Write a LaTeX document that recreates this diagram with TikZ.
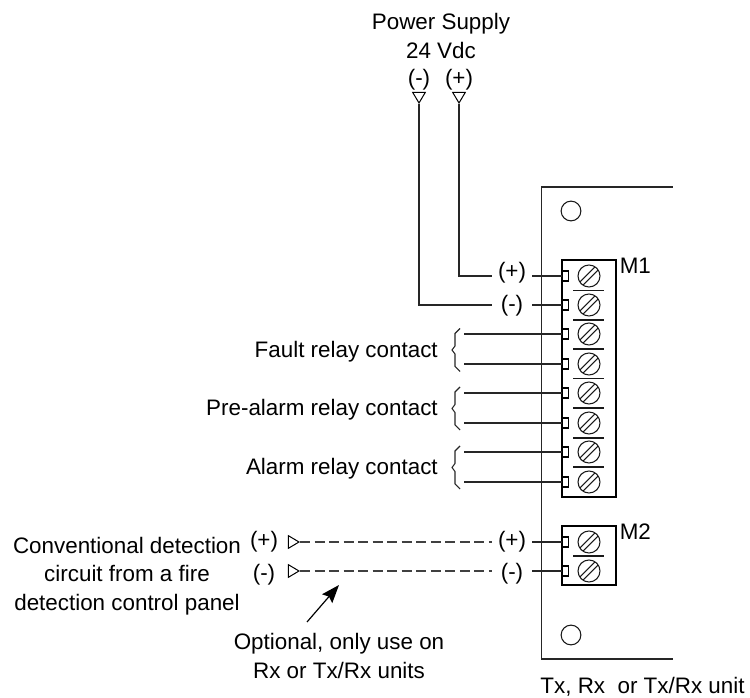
\documentclass[tikz,border=0pt]{standalone}
\usepackage{fontspec}
\setmainfont{Liberation Sans}
\usetikzlibrary{shapes.geometric,arrows.meta}
\tikzset{
  x=0.75pt,y=-0.75pt,
  wire/.style={line width=1pt,black!85},
  lbl/.style={inner sep=0pt,font=\fontsize{16.8pt}{21.2pt}\selectfont,text=black},
  pm/.style={lbl,minimum width=30pt},
  dashwire/.style={line width=1pt,black!75,dash pattern=on 7.5pt off 3.4pt},
  tri/.style={draw,line width=0.75pt,fill=white,isosceles triangle,isosceles triangle apex angle=60,isosceles triangle stretches,inner sep=0pt,minimum height=8pt,minimum width=9.5pt},
  block/.style={draw,line width=0.95pt,minimum width=40.5pt,inner sep=0pt},
  tab/.style={draw,fill=white,line width=0.8pt,minimum width=5pt,minimum height=7.5pt,inner sep=0pt},
  thin line/.style={line width=0.8pt,black!90},
  brk/.style={line width=0.8pt,black!85},
  pics/screw/.style={code={
    \draw[thin line] (0,0) circle[radius=8.25pt];
    \draw[thin line] (-6,9.2) -- (9.2,-6);
    \draw[thin line] (-9.2,6) -- (6,-9.2);
  }},
}
\begin{document}
\begin{tikzpicture}
\useasboundingbox (0,0) rectangle (750,698);
% board
\draw[line width=1pt,black!85] (672.5,187) -- (541.5,187) -- (541.5,659) -- (672.5,659);
\draw[thin line] (571,211) circle[radius=7.4pt];
\draw[thin line] (571,635) circle[radius=7.4pt];
% terminal blocks
\node[block,fill=white,minimum height=177.75pt] (m1) at (589,378.5) {};
\node[block,fill=white,minimum height=44.25pt] (m2) at (589,555.5) {};
\node[lbl,anchor=base west] (m1l) at (619.5,274) {M1};
\node[lbl,anchor=base west] (m2l) at (619.5,539) {M2};
% screws and tabs
\foreach \n/\yy in {1/276,2/305,3/334,4/364,5/393,6/423,7/452,8/482,9/542,10/571}{
  \pic at (589,\yy) {screw};
  \node[tab] (t\n) at (565.5,\yy) {};
}
\foreach \yy in {290.5,320,349,378.5,408,438,467,556}{
  \draw[thin line] (573,\yy) -- (604,\yy);
}
% power supply
\node[lbl,align=center] (ps) at (441,36) {Power Supply\\24 Vdc};
\node[lbl] (tm) at (419,80) {(-)};
\node[lbl] (tp) at (459,80) {(+)};
\node[tri,shape border rotate=270,anchor=apex] (am) at (419,104) {};
\node[tri,shape border rotate=270,anchor=apex] (ap) at (459,104) {};
\node[pm] (lp1) at (512,273) {(+)};
\node[pm] (lm1) at (512,305.5) {(-)};
\draw[wire] (ap.apex) |- (lp1.west |- t1.west);
\draw[wire] (am.apex) |- (lm1.west |- t2.west);
\draw[wire] (lp1.east |- t1.west) -- (t1.west);
\draw[wire] (lm1.east |- t2.west) -- (t2.west);
% relay contacts
\foreach \n/\yy in {3/334,4/364,5/393,6/423,7/452,8/482}{
  \coordinate (r\n) at (464,\yy);
  \draw[wire] (r\n) -- (t\n.west);
}
\foreach \yy in {350,408.5,467.5}{
  \draw[brk] (460,\yy-21.5) -- (455,\yy-16.5) -- (455,\yy-4) -- (452,\yy) -- (455,\yy+4) -- (455,\yy+16.5) -- (460,\yy+21.5);
}
\node[lbl,anchor=base east] (f) at (438,358) {Fault relay contact};
\node[lbl,anchor=base east] (pa) at (438,416) {Pre-alarm relay contact};
\node[lbl,anchor=base east] (al) at (438,475) {Alarm relay contact};
% detection circuit
\node[lbl,align=center] (cd) at (127,576) {Conventional detection\\circuit from a fire\\detection control panel};
\node[lbl] (cp) at (264,542) {(+)};
\node[lbl] (cm) at (264,575) {(-)};
\node[tri,anchor=apex] (dp) at (300,542) {};
\node[tri,anchor=apex] (dm) at (300,571) {};
\node[pm] (lp2) at (512,542) {(+)};
\node[pm] (lm2) at (512,574) {(-)};
\draw[dashwire] (dp.apex) -- (lp2.west |- t9.west);
\draw[dashwire] (dm.apex) -- (lm2.west |- t10.west);
\draw[wire] (lp2.east |- t9.west) -- (t9.west);
\draw[wire] (lm2.east |- t10.west) -- (t10.west);
% optional note
\node[lbl,align=center] (opt) at (339,656) {Optional, only use on\\Rx or Tx/Rx units};
\coordinate (atail) at (307,622);
\coordinate (atip) at (339,585);
\draw[line width=0.9pt,-{Stealth[length=13.5pt,width=10pt,inset=2pt]}] (atail) -- (atip);
% unit label
\node[lbl] (unit) at (642.5,687) {Tx, Rx\ \ or Tx/Rx unit};
\end{tikzpicture}
\end{document}
